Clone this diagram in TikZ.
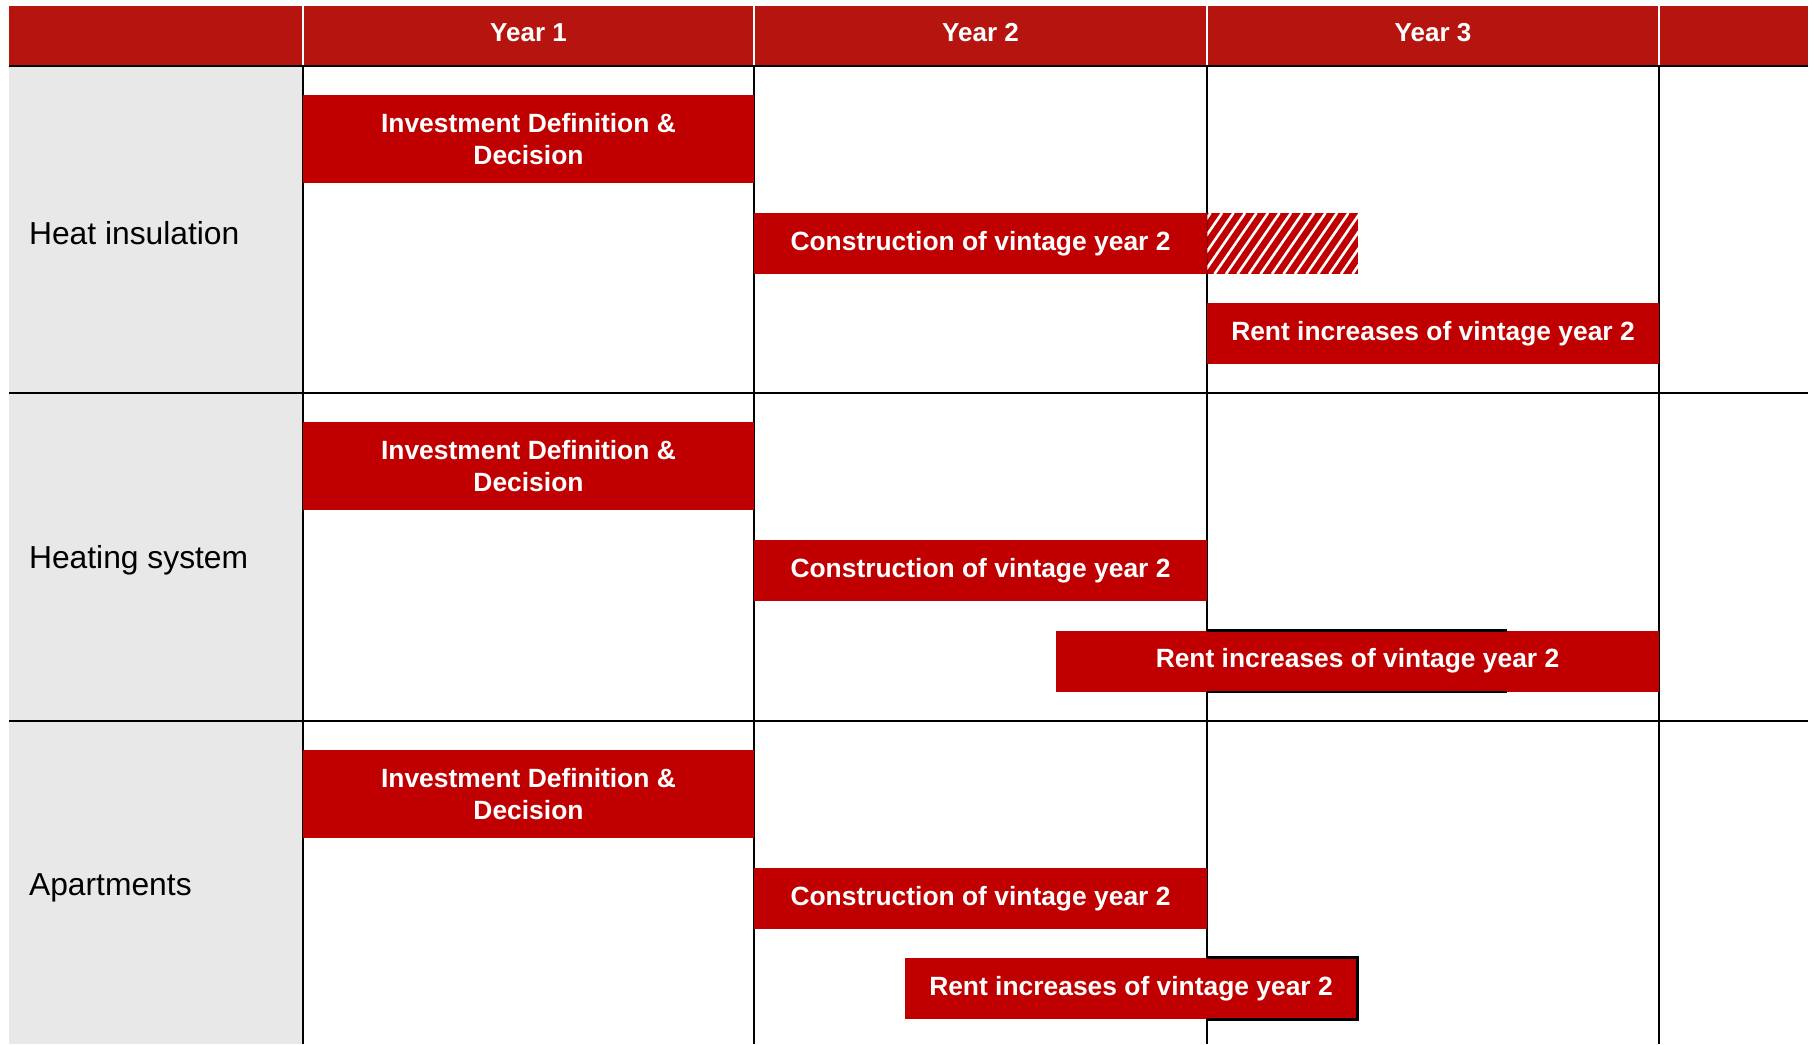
\documentclass[tikz,border=0pt]{standalone}
\usepackage{fontspec}
\setmainfont{Liberation Sans}
\usepackage{xcolor}
\usetikzlibrary{positioning}
\definecolor{hdrred}{RGB}{182, 20, 14}
\definecolor{barred}{RGB}{192, 0, 0}
\definecolor{leftgray}{RGB}{232, 232, 232}

\begin{document}
\begin{tikzpicture}[x=0.5pt,y=-0.5pt,
          bar/.style={fill=barred,text=white,align=center,inner sep=0pt,
                      font=\bfseries\fontsize{13.2}{16.2}\selectfont},
          hdr/.style={text=white,font=\bfseries\fontsize{13}{15}\selectfont},
          rowlab/.style={anchor=west,font=\fontsize{15.9}{18}\selectfont},
          grid/.style={line width=1.4pt}]
        \useasboundingbox (0,0) rectangle (1814,1044);
        % header and left column
        \fill[hdrred] (9,6) rectangle (1808,66);
        \fill[leftgray] (9,66) rectangle (303,1044);
        \foreach \x in {303,754,1207,1659}
          \draw[white,line width=1.2pt] (\x,6) -- (\x,66);
        \node[hdr] (y1) at (528.5,32.5) {Year 1};
        \node[hdr] (y2) at (980.5,32.5) {Year 2};
        \node[hdr] (y3) at (1433,32.5) {Year 3};
        % grid
        \foreach \y in {66,393,721}
          \draw[grid] (9,\y) -- (1808,\y);
        \foreach \x in {303,754,1207,1659}
          \draw[grid] (\x,66) -- (\x,1044);
        % bars
        \foreach \i/\top/\lab in {1/66/Heat insulation,2/393/Heating system,3/721/Apartments}{
          \node[rowlab] (lab\i) at (22,\top+167) {\lab};
          \node[bar,minimum width=225.5pt,minimum height=44pt] (inv\i) at (528.5,\top+73)
            {Investment Definition \&\\Decision};
          \node[bar,minimum width=226.5pt,minimum height=30.5pt] (cons\i) at (980.5,\top+177.5)
            {Construction of vintage year 2};
        }
        \node[bar,minimum width=226pt,minimum height=30.5pt] (rent1) at (1433,333.5)
          {Rent increases of vintage year 2};
        \node[bar,minimum width=301.5pt,minimum height=30.5pt] (rent2) at (1357.5,661)
          {Rent increases of vintage year 2};
        \node[bar,minimum width=226pt,minimum height=30.5pt] (rent3) at (1131,988.5)
          {Rent increases of vintage year 2};
        % hatched continuation
        \begin{scope}
          \clip (cons1.east |- cons1.north) rectangle ++(151,61);
          \fill[barred] (cons1.east |- cons1.north) rectangle ++(151,61);
          \foreach \s in {-50,-38.5,...,170}
            \draw[white,line width=1.3pt] (1207+\s,274) -- ++(42,-61);
        \end{scope}
        \draw[grid] (cons2.east |- rent2.north) -- ++(300,0);
        \draw[grid] (cons2.east |- rent2.south) -- ++(300,0);
        \draw[grid] (cons3.east |- rent3.north) -| (rent3.south east)
          -- (cons3.east |- rent3.south);
      \end{tikzpicture}
\end{document}
